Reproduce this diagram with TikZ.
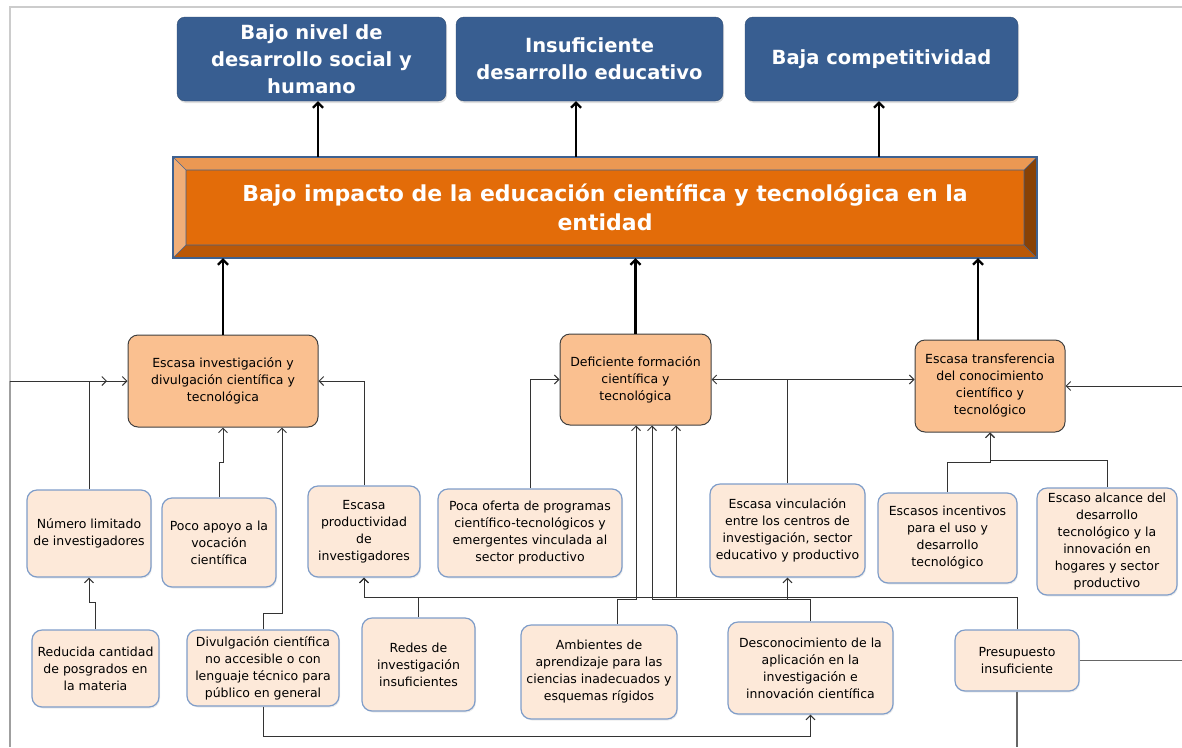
\documentclass[tikz,border=0pt]{standalone}
\usepackage{fontspec}
\setmainfont{DejaVu Sans}
\usepackage{tikz}
\usetikzlibrary{arrows,arrows.meta,shadows}

\definecolor{azulef}{HTML}{385E91}
\definecolor{bordeaz}{HTML}{3E6190}
\definecolor{naranja}{HTML}{E36C09}
\definecolor{naranjaclaro}{HTML}{FAC090}
\definecolor{salmon}{HTML}{FDE9D9}
\definecolor{bordesub}{HTML}{7F9DC9}

\begin{document}
\begin{tikzpicture}[x=1pt, y=-1pt,
  efecto/.style={draw=bordeaz!80!black, fill=azulef, rounded corners=8pt, text=white,
    font=\fontsize{19.5}{27}\selectfont\bfseries, align=center, inner sep=2pt,
    drop shadow={opacity=0.25, shadow xshift=1pt, shadow yshift=-2pt}},
  causa/.style={draw=black!75, line width=1pt, fill=naranjaclaro, rounded corners=10pt,
    font=\fontsize{12.5}{17}\selectfont, align=center, inner sep=2pt},
  sub/.style={draw=bordesub, line width=1.2pt, fill=salmon, rounded corners=10pt,
    font=\fontsize{12.5}{17}\selectfont, align=center, inner sep=2pt,
    drop shadow={opacity=0.15, shadow xshift=1pt, shadow yshift=-1.5pt}},
  flecha/.style={-{Straight Barb[length=4.5pt, width=9pt]}, draw=black!80, line width=1pt},
  linea/.style={draw=black!60, line width=1.2pt},
  grueso/.style={-{Straight Barb[length=5pt, width=10pt]}, draw=black, line width=2.2pt}]

\useasboundingbox (0,0) rectangle (1182,747);

% marco
\draw[gray!40, line width=1.5pt] (10,381) -- (10,7) -- (1182,7);
\draw[gray!75, line width=1.5pt] (10,381) -- (10,747);

% efectos
\node[efecto, minimum width=269pt, minimum height=84pt] at (311.5,59) (e1) {Bajo nivel de\\desarrollo social y\\humano};
\node[efecto, minimum width=267pt, minimum height=84pt] at (589.5,59) (e2) {Insuficiente\\desarrollo educativo};
\node[efecto, minimum width=273pt, minimum height=84pt] at (881.5,59) (e3) {Baja competitividad};

% problema central (bisel)
\fill[naranja!70!white] (173,157) -- (1037,157) -- (1024,170) -- (186,170) -- cycle;
\fill[naranja!55!white] (173,157) -- (186,170) -- (186,245) -- (173,258) -- cycle;
\fill[naranja!60!black] (1037,157) -- (1037,258) -- (1024,245) -- (1024,170) -- cycle;
\fill[naranja!82!black] (173,258) -- (1037,258) -- (1024,245) -- (186,245) -- cycle;
\fill[naranja] (186,170) rectangle (1024,245);
\draw[bordeaz, line width=0.6pt] (186,170) rectangle (1024,245)
  (173,157) -- (186,170) (1037,157) -- (1024,170) (173,258) -- (186,245) (1037,258) -- (1024,245);
\draw[bordeaz, line width=2pt] (173,157) rectangle (1037,258);
\node[minimum width=864pt, minimum height=101pt, text=white, align=center,
  font=\fontsize{22}{29.5}\selectfont\bfseries] at (605,207.5) (pc)
  {Bajo impacto de la educación científica y tecnológica en la\\entidad};

\draw[grueso] (318,0 |- pc.north) -- (318,0 |- e1.south);
\draw[grueso] (576,0 |- pc.north) -- (576,0 |- e2.south);
\draw[grueso] (879,0 |- pc.north) -- (879,0 |- e3.south);

% causas
\node[causa, minimum width=190pt, minimum height=92pt] at (223,381) (c1) {Escasa investigación y\\divulgación científica y\\tecnológica};
\node[causa, minimum width=151pt, minimum height=91pt] at (635.5,379.5) (c2) {Deficiente formación\\científica y\\tecnológica};
\node[causa, minimum width=150pt, minimum height=92pt] at (990,386) (c3) {Escasa transferencia\\del conocimiento\\científico y\\tecnológico};

\draw[grueso] (c1.north) -- (c1.north |- pc.south);
\draw[grueso] (c2.north) -- (c2.north |- pc.south);
\draw[grueso] (978,0 |- c3.north) -- (978,0 |- pc.south);

% subcausas
\node[sub, minimum width=124pt, minimum height=87pt] at (89,533.5) (s1) {Número limitado\\de investigadores};
\node[sub, minimum width=114pt, minimum height=89pt] at (219,542.5) (s2) {Poco apoyo a la\\vocación\\científica};
\node[sub, minimum width=112pt, minimum height=91pt] at (364,531.5) (s3) {Escasa\\productividad\\de\\investigadores};
\node[sub, minimum width=184pt, minimum height=88pt] at (530,533) (s4) {Poca oferta de programas\\científico-tecnológicos y\\emergentes vinculada al\\sector productivo};
\node[sub, minimum width=155pt, minimum height=93pt] at (787.5,530.5) (s5) {Escasa vinculación\\entre los centros de\\investigación, sector\\educativo y productivo};
\node[sub, minimum width=139pt, minimum height=90pt] at (947.5,538) (s6) {Escasos incentivos\\para el uso y\\desarrollo\\tecnológico};
\node[sub, minimum width=140pt, minimum height=107pt] at (1107,541.5) (s7) {Escaso alcance del\\desarrollo\\tecnológico y la\\innovación en\\hogares y sector\\productivo};

\node[sub, minimum width=127pt, minimum height=77pt] at (95.5,668.5) (r1) {Reducida cantidad\\de posgrados en\\la materia};
\node[sub, minimum width=152pt, minimum height=76pt] at (263,668) (r2) {Divulgación científica\\no accesible o con\\lenguaje técnico para\\público en general};
\node[sub, minimum width=113pt, minimum height=93pt] at (418.5,664.5) (r3) {Redes de\\investigación\\insuficientes};
\node[sub, minimum width=156pt, minimum height=94pt] at (599,672) (r4) {Ambientes de\\aprendizaje para las\\ciencias inadecuados y\\esquemas rígidos};
\node[sub, minimum width=165pt, minimum height=92pt] at (810.5,668) (r5) {Desconocimiento de la\\aplicación en la\\investigación e\\innovación científica};
\node[sub, minimum width=124pt, minimum height=61pt] at (1017,660.5) (r6) {Presupuesto\\insuficiente};

\coordinate (izq) at (10,381);
\coordinate (izqfin) at (107,381);
\coordinate (der) at (1182,386);
\coordinate (der2) at (1182,660.5);
\coordinate (abajo) at (1017,747);

% conectores hacia c1
\draw[flecha] (izq) -- (izqfin);
\draw[flecha] (s1.north) |- (c1.west);
\draw[flecha] (s2.north) -- ++(0,-35) -| (c1.south);
\draw[flecha] (r2.north) -- ++(0,-16) -| (282,0 |- c1.south);
\draw[flecha] (s3.north) |- (c1.east);
\draw[flecha] (r1.north) -- ++(0,-27) -| (s1.south);
\draw[flecha] (r2.south) -- ++(0,30) -| (r5.south);
\draw[flecha] (r3.north) -- ++(0,-20) -| (s3.south);
\draw[flecha] (r6.north) -- ++(0,-32) -| (s3.south);

% conectores hacia c2
\draw[flecha] (s4.north) |- (c2.west);
\draw[flecha] (s5.north) |- (c2.east);
\draw[flecha] (617,0 |- r4.north) -- ++(0,-25) -| (636,0 |- c2.south);
\draw[flecha] (r5.north) -- ++(0,-22) -| (652,0 |- c2.south);
\draw[flecha] (r6.north) -- ++(0,-32) -| (676,0 |- c2.south);
\draw[flecha] (r5.north) -- ++(0,-22) -| (s5.south);

% conectores hacia c3
\draw[flecha] (s5.north) |- (c3.west |- c2.east);
\draw[flecha] (s6.north) -- ++(0,-30) -| (c3.south);
\draw[flecha] (s7.north) -- ++(0,-27) -| (c3.south);
\draw[flecha] (der) -- (c3.east);
\draw[linea] (r6.east) -- (der2);
\draw[linea] (r6.south) -- (abajo);

\end{tikzpicture}
\end{document}
